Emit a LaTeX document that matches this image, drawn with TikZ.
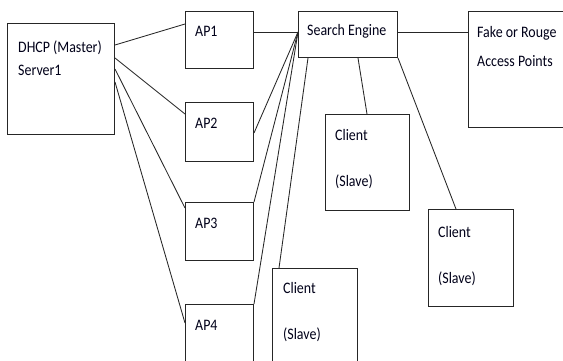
\documentclass[tikz,border=0pt]{standalone}
\usepackage{fontspec}
\setmainfont{Carlito}[FakeStretch=0.87]
\usetikzlibrary{positioning}
\tikzset{
      netbox/.style={
        draw=black!85,
        line width=1pt,
        anchor=north west,
        inner sep=0pt
      },
      boxtext/.style={
        anchor=base west,
        inner sep=0pt,
        text=black!90!blue,
        font=\fontsize{16}{18}\selectfont
      },
      link/.style={
        draw=black!85,
        line width=0.85pt
      }
    }
\begin{document}
\begin{tikzpicture}[x=1pt,y=-1pt]
    \useasboundingbox[fill=white] (0,0) rectangle (563,360);
    \clip (0,0) rectangle (563,360);
    % boxes
    \node[netbox, minimum width=107, minimum height=111] (dhcp) at (7,23) {};
    \node[netbox, minimum width=68, minimum height=57] (ap1) at (185,11) {};
    \node[netbox, minimum width=68, minimum height=59] (ap2) at (185,102) {};
    \node[netbox, minimum width=68, minimum height=58] (ap3) at (185,202) {};
    \node[netbox, minimum width=68, minimum height=62] (ap4) at (185,304) {};
    \node[netbox, minimum width=99, minimum height=46] (engine) at (298,11) {};
    \node[netbox, minimum width=110, minimum height=116] (rogue) at (468,11) {};
    \node[netbox, minimum width=84, minimum height=96] (client1) at (325,114) {};
    \node[netbox, minimum width=85, minimum height=97] (client2) at (428,209) {};
    \node[netbox, minimum width=85, minimum height=104] (client3) at (272,268) {};
    % texts
    \node[boxtext] (dhcpA) at (18,52) {DHCP (Master)};
    \node[boxtext] (dhcpB) at (18,75) {Server1};
    \node[boxtext] (ap1t) at (195,36) {AP1};
    \node[boxtext] (ap2t) at (195,128) {AP2};
    \node[boxtext] (ap3t) at (195,228) {AP3};
    \node[boxtext] (ap4t) at (195,330) {AP4};
    \node[boxtext] (enginet) at (307,35) {Search Engine};
    \node[boxtext] (rogueA) at (477,37) {Fake or Rouge};
    \node[boxtext] (rogueB) at (477,66) {Access Points};
    \node[boxtext] (client1A) at (335,140) {Client};
    \node[boxtext] (client1B) at (335,186) {(Slave)};
    \node[boxtext] (client2A) at (438,237) {Client};
    \node[boxtext] (client2B) at (438,283) {(Slave)};
    \node[boxtext] (client3A) at (283,293) {Client};
    \node[boxtext] (client3B) at (283,339) {(Slave)};
    % server to access points
    \draw[link] ([yshift=-22pt]dhcp.north east) -- ([yshift=-13pt]ap1.north west);
    \draw[link] ([yshift=-35pt]dhcp.north east) -- ([yshift=-12pt]ap2.north west);
    \draw[link] ([yshift=-46pt]dhcp.north east) -- ([yshift=-6pt]ap3.north west);
    \draw[link] ([yshift=-59pt]dhcp.north east) -- ([yshift=-19pt]ap4.north west);
    % access points to search engine
    \draw[link] ([yshift=-21pt]ap1.north east) -- ([yshift=-21pt]engine.north west);
    \draw[link] ([yshift=-31pt]ap2.north east) -- ([yshift=-21pt]engine.north west);
    \draw[link] (ap3.north east) -- ([yshift=-21pt]engine.north west);
    \draw[link] (ap4.north east) -- ([yshift=-21pt]engine.north west);
    % search engine to clients and rogue points
    \draw[link] ([xshift=10pt]engine.south west) -- ([xshift=7pt]client3.north west);
    \draw[link] ([xshift=60pt]engine.south west) -- ([xshift=42pt]client1.north west);
    \draw[link] (engine.south east) -- ([xshift=28pt]client2.north west);
    \draw[link] ([yshift=-21pt]engine.north east) -- ([yshift=-21pt]rogue.north west);
\end{tikzpicture}
\end{document}
